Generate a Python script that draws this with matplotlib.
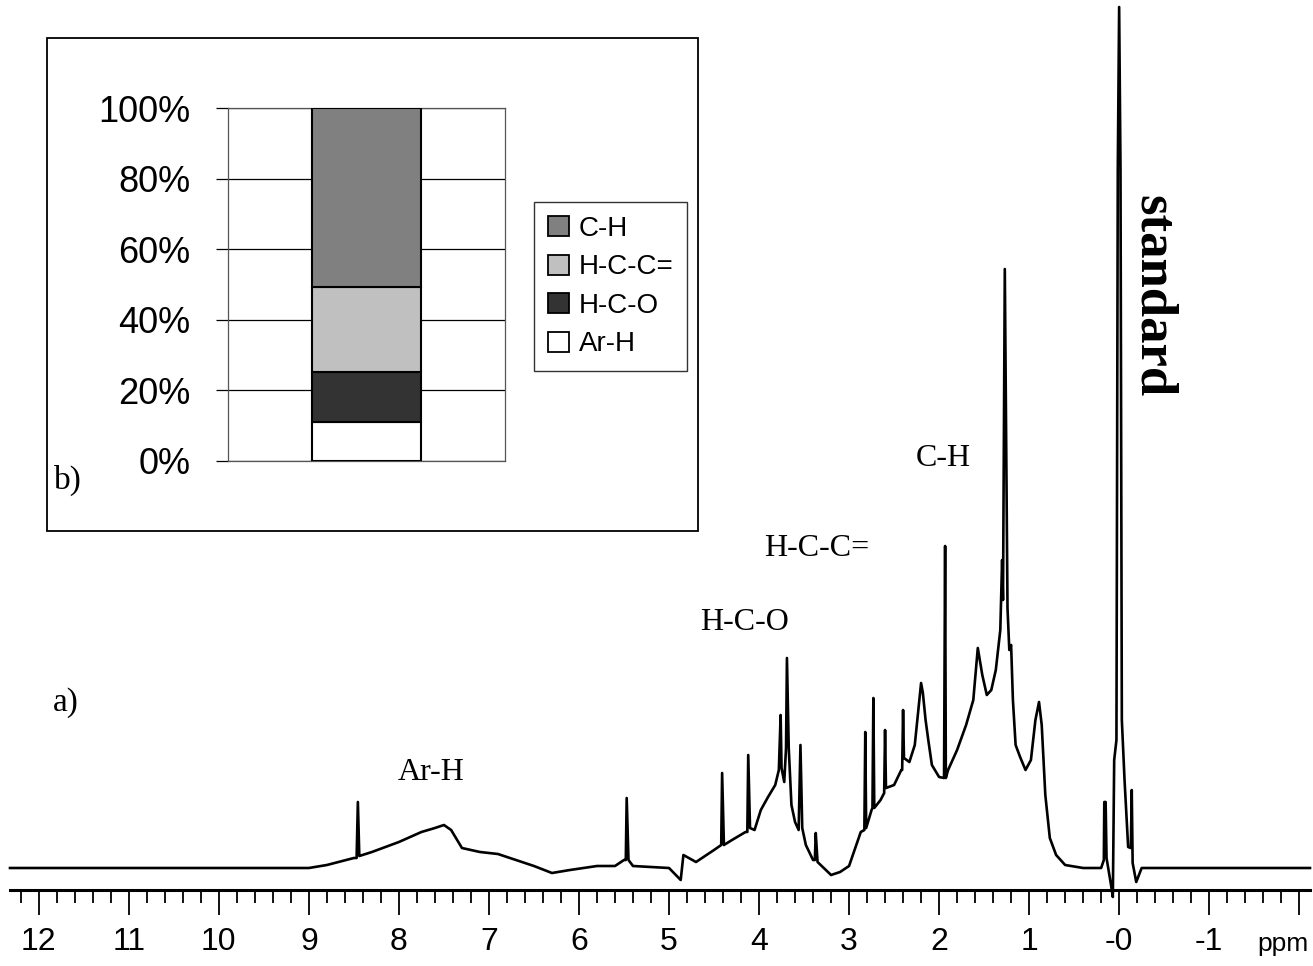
"""
1H NMR spectrum (a) with the integrated proton-type distribution inset (b).

Writes out.png (1313 x 966 px).
"""

from __future__ import annotations

import matplotlib

matplotlib.use("Agg")

import matplotlib.pyplot as plt
from matplotlib.patches import Patch, Rectangle

# ---------------------------------------------------------------------------
# Data: chemical shift (ppm) and intensity (a.u.)
# ---------------------------------------------------------------------------
shift_ppm = [
    12.32, 10.5, 9.0, 8.8, 8.5, 8.47, 8.456, 8.44, 8.3, 8.0, 7.75, 7.6, 7.5,
    7.42, 7.3, 7.1, 6.9, 6.7, 6.5, 6.3, 6.1, 5.8, 5.6, 5.5, 5.48, 5.47, 5.45,
    5.4, 5.0, 4.87, 4.84, 4.7, 4.5, 4.42, 4.41, 4.39, 4.3, 4.15, 4.13, 4.12,
    4.10, 4.05, 3.98, 3.9, 3.82, 3.78, 3.76, 3.75, 3.72, 3.70, 3.69, 3.67,
    3.64, 3.6, 3.56, 3.54, 3.52, 3.48, 3.4, 3.38, 3.37, 3.35, 3.2, 3.1, 3.0,
    2.92, 2.87, 2.83, 2.82, 2.81, 2.75, 2.74, 2.73, 2.72, 2.65, 2.61, 2.60,
    2.59, 2.5, 2.42, 2.41, 2.40, 2.39, 2.33, 2.27, 2.22, 2.2, 2.18, 2.15,
    2.12, 2.08, 2.0, 1.945, 1.933, 1.925, 1.9, 1.8, 1.7, 1.62, 1.57, 1.52,
    1.47, 1.42, 1.37, 1.32, 1.30, 1.29, 1.27, 1.255, 1.24, 1.22, 1.20, 1.18,
    1.15, 1.10, 1.04, 0.98, 0.93, 0.89, 0.86, 0.82, 0.77, 0.70, 0.6, 0.4,
    0.2, 0.17, 0.165, 0.15, 0.14, 0.09, 0.07, 0.055, 0.03, 0.015, 0.0,
    -0.015, -0.03, -0.06, -0.1, -0.13, -0.14, -0.15, -0.19, -0.25, -1.0,
    -2.12,
]
intensity = [
    0, 0, 0, 3, 10, 10, 66, 12, 16, 26, 36, 40, 43,
    38, 20, 16, 14, 8, 2, -5, -2, 2, 2, 8, 8, 70, 8,
    2, 0, -12, 13, 6, 18, 23, 95, 23, 28, 36, 36, 113,
    40, 38, 58, 71, 83, 98, 153, 100, 86, 120, 210, 120,
    63, 46, 38, 123, 40, 23, 8, 8, 35, 6, -7, -4, 2,
    23, 36, 38, 136, 40, 58, 60, 170, 60, 68, 75, 138,
    80, 83, 98, 98, 158, 110, 106, 123, 168, 185, 175, 148,
    128, 103, 91, 90, 322, 90, 98, 118, 143, 168, 220, 193,
    173, 178, 198, 238, 308, 268, 599, 428, 260, 218, 223, 168,
    123, 111, 98, 108, 148, 166, 143, 73, 30, 13, 3, 0,
    0, 8, 66, 66, 10, -17, -29, 108, 128, 700, 861,
    700, 148, 88, 21, 20, 78, 5, -14, 0, 0,
    0,
]

major_ticks = [12, 11, 10, 9, 8, 7, 6, 5, 4, 3, 2, 1, 0, -1, -2]
major_labels = ["12", "11", "10", "9", "8", "7", "6", "5", "4", "3", "2", "1",
                "-0", "-1", ""]

peak_labels = ["Ar-H", "H-C-O", "H-C-C=", "C-H"]

# ---------------------------------------------------------------------------
# Data for the inset: share of each proton type (%)
# ---------------------------------------------------------------------------
proton_types = ["Ar-H", "H-C-O", "H-C-C=", "C-H"]
proton_share = [11.1, 14.1, 24.2, 50.6]
proton_colours = ["#ffffff", "#333333", "#c0c0c0", "#808080"]
pct_ticks = [0, 20, 40, 60, 80, 100]

W, H = 1313, 966
SERIF = ["Liberation Serif", "DejaVu Serif"]
SANS = ["Liberation Sans", "DejaVu Sans"]


def _fx(px: float) -> float:
    return px / W


def _fy(py: float) -> float:
    return 1 - py / H


# ---------------------------------------------------------------------------
# Spectrum
# ---------------------------------------------------------------------------
def _plot_spectrum(fig) -> None:
    ax = fig.add_axes([_fx(10), _fy(890), 1300 / W, 890 / H])
    ax.plot(shift_ppm, intensity, color="black", lw=1.9, clip_on=False)
    ax.set_xlim(12.32, -2.12)
    ax.set_ylim(-22, 868)

    for side in ("left", "right", "top"):
        ax.spines[side].set_visible(False)
    ax.spines["bottom"].set_linewidth(2.2)
    ax.set_yticks([])

    ax.set_xticks(major_ticks, labels=major_labels)
    ax.set_xticks([12.2 - 0.2 * i for i in range(72)], minor=True)
    ax.tick_params(axis="x", which="major", length=18, width=1.3,
                   pad=9, labelsize=23)
    ax.tick_params(axis="x", which="minor", length=9, width=1.3)
    for lab in ax.get_xticklabels():
        lab.set_family(SANS)

    fig.text(_fx(1309), _fy(944), "ppm", family=SANS, fontsize=19,
             ha="right", va="center")

    label_pos = [(431, 772), (745, 623), (817, 549), (943, 458)]
    for text, (px, py) in zip(peak_labels, label_pos):
        fig.text(_fx(px), _fy(py), text, family=SERIF, fontsize=23,
                 ha="center", va="center")

    fig.text(_fx(1153), _fy(296), "standard", family=SERIF, fontsize=38,
             fontweight="bold", rotation=-90, ha="center", va="center")
    fig.text(_fx(66), _fy(703), "a)", family=SERIF, fontsize=24,
             ha="center", va="center")


# ---------------------------------------------------------------------------
# Inset: stacked bar
# ---------------------------------------------------------------------------
def _plot_inset(fig) -> None:
    fig.add_artist(Rectangle((_fx(47), _fy(531)), 651 / W, 493 / H,
                             transform=fig.transFigure, facecolor="white",
                             edgecolor="black", lw=1.3, zorder=2))

    ax = fig.add_axes([_fx(228), _fy(461), 277 / W, 353 / H], zorder=3)
    ax.set_facecolor("white")
    bottom = 0.0
    for share, colour in zip(proton_share, proton_colours):
        ax.bar(0, share, bottom=bottom, width=0.397, color=colour,
               edgecolor="black", lw=1.5, zorder=3)
        bottom += share
    ax.set_xlim(-0.5, 0.5)
    ax.set_ylim(0, 100)
    ax.set_xticks([])
    ax.set_yticks(pct_ticks, labels=[f"{p}%" for p in pct_ticks])
    ax.yaxis.grid(True, color="black", lw=0.9, zorder=0)
    ax.set_axisbelow(True)
    ax.tick_params(axis="y", length=9, width=0.9, pad=18, labelsize=26)
    for lab in ax.get_yticklabels():
        lab.set_family(SANS)
    for side in ("left", "right", "top", "bottom"):
        ax.spines[side].set_color("#555555")
        ax.spines[side].set_linewidth(0.9)

    handles = [Patch(facecolor=c, edgecolor="black", lw=1.3, label=t)
               for t, c in zip(proton_types, proton_colours)][::-1]
    leg = fig.legend(handles=handles, loc="upper left",
                     bbox_to_anchor=(_fx(534), _fy(202)),
                     prop={"family": SANS, "size": 20},
                     frameon=True, fancybox=False, edgecolor="black",
                     handlelength=0.75, handleheight=0.75, handletextpad=0.35,
                     labelspacing=0.45, borderpad=0.5, borderaxespad=0)
    leg.get_frame().set_linewidth(1.0)
    leg.set_zorder(5)

    fig.text(_fx(68), _fy(480), "b)", family=SERIF, fontsize=24,
             ha="center", va="center", zorder=5)


def main() -> None:
    fig = plt.figure(figsize=(W / 100, H / 100), dpi=100)
    _plot_spectrum(fig)
    _plot_inset(fig)
    fig.savefig("out.png", dpi=100, facecolor="white")
    plt.close(fig)


if __name__ == "__main__":
    main()
